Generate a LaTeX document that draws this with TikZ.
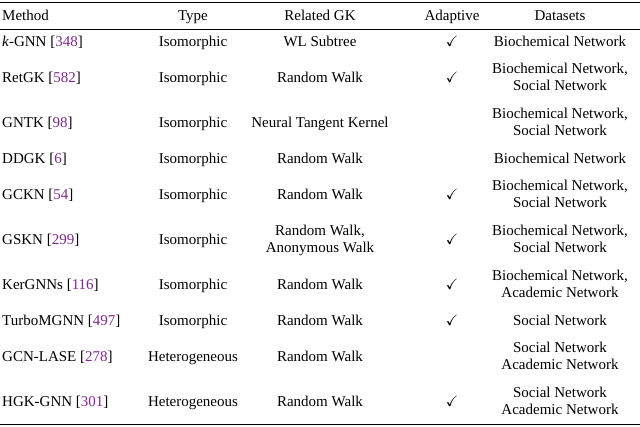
\documentclass[tikz,border=0pt]{standalone}
\usepackage{fontspec}
\usepackage{amssymb}
\setmainfont{Liberation Serif}
\definecolor{cite}{RGB}{128,40,140}
\begin{document}
\begin{tikzpicture}[x=1pt,y=-1pt,
  cell/.style={font=\fontsize{15}{17.5}\selectfont,inner sep=0pt,align=center,yshift=-1.5pt},
  lcell/.style={cell,anchor=west,align=left}]
\useasboundingbox (0,0) rectangle (640,426);
\newcommand{\ct}[1]{[\textcolor{cite}{#1}]}
\newcommand{\sv}[1]{\strut#1\strut}
\draw[line width=0.8pt] (0,2) -- (640,2);
\draw[line width=0.5pt] (0,29) -- (640,29);
\draw[line width=0.8pt] (0,424) -- (640,424);
\node[lcell] (h1) at (2,15) {\sv{Method}};
\node[cell] (h2) at (193,15) {\sv{Type}};
\node[cell] (h3) at (320,15) {\sv{Related GK}};
\node[cell] (h4) at (452,15) {\sv{Adaptive}};
\node[cell] (h5) at (560,15) {\sv{Datasets}};
\foreach \y/\m/\t/\g/\a/\d [count=\i] in {
 41/{\textit{k}-GNN \ct{348}}/Isomorphic/WL Subtree/$\checkmark$/Biochemical Network,
 77/{RetGK \ct{582}}/Isomorphic/Random Walk/$\checkmark$/{Biochemical Network,\\Social Network},
 122/{GNTK \ct{98}}/Isomorphic/Neural Tangent Kernel//{Biochemical Network,\\Social Network},
 158/{DDGK \ct{6}}/Isomorphic/Random Walk//Biochemical Network,
 194/{GCKN \ct{54}}/Isomorphic/Random Walk/$\checkmark$/{Biochemical Network,\\Social Network},
 239/{GSKN \ct{299}}/Isomorphic/{Random Walk,\\Anonymous Walk}/$\checkmark$/{Biochemical Network,\\Social Network},
 284/{KerGNNs \ct{116}}/Isomorphic/Random Walk/$\checkmark$/{Biochemical Network,\\Academic Network},
 320/{TurboMGNN \ct{497}}/Isomorphic/Random Walk/$\checkmark$/Social Network,
 356/{GCN-LASE \ct{278}}/Heterogeneous/Random Walk//{Social Network\\Academic Network},
 401/{HGK-GNN \ct{301}}/Heterogeneous/Random Walk/$\checkmark$/{Social Network\\Academic Network}}{
  \node[lcell] (m\i) at (2,\y) {\sv{\m}};
  \node[cell] (t\i) at (193,\y) {\sv{\t}};
  \node[cell] (g\i) at (320,\y) {\sv{\g}};
  \node[cell] (a\i) at (452,\y) {\sv{\a}};
  \node[cell] (d\i) at (560,\y) {\sv{\d}};
}
\end{tikzpicture}
\end{document}
